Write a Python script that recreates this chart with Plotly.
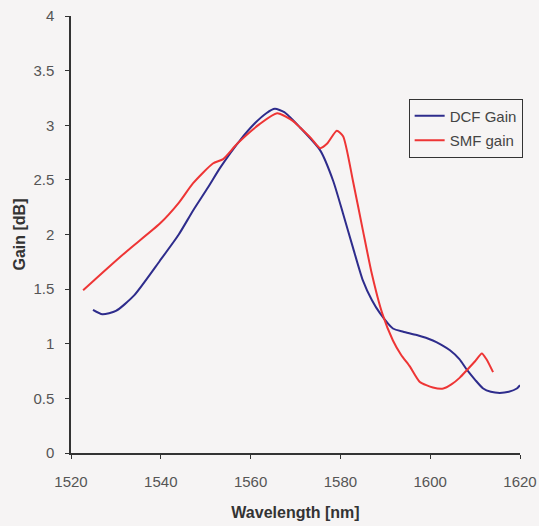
import plotly.graph_objects as go

# DCF gain spectrum (wavelength in nm, gain in dB)
dcf_wavelength = [1524.9, 1527.0, 1530.0, 1534.0, 1539.8, 1544.0, 1547.2, 1550.5, 1553.2,
                  1557.6, 1561.0, 1563.5, 1565.4, 1567.5, 1571.0, 1575.5, 1578.4, 1580.6,
                  1582.8, 1585.0, 1587.0, 1588.8, 1591.7, 1594.0, 1597.0, 1600.6, 1602.5,
                  1604.4, 1606.5, 1608.2, 1610.0, 1611.8, 1613.5, 1615.5, 1617.5, 1619.3, 1620.0]
dcf_gain = [1.31, 1.27, 1.30, 1.44, 1.76, 2.00, 2.22, 2.43, 2.61,
            2.86, 3.02, 3.11, 3.15, 3.12, 2.98, 2.77, 2.49, 2.19,
            1.88, 1.58, 1.40, 1.28, 1.14, 1.11, 1.08, 1.03, 0.99,
            0.94, 0.86, 0.76, 0.67, 0.59, 0.56, 0.55, 0.56, 0.59, 0.62]

# SMF gain spectrum
smf_wavelength = [1522.7, 1523.5, 1527.0, 1532.5, 1539.8, 1544.0, 1547.2, 1551.6, 1553.9,
                  1557.0, 1562.0, 1565.9, 1569.4, 1571.0, 1573.5, 1575.5, 1577.0, 1579.2,
                  1580.6, 1582.8, 1585.0, 1587.0, 1589.3, 1591.7, 1593.5, 1595.5, 1597.7,
                  1600.6, 1602.9, 1604.8, 1606.6, 1608.2, 1610.0, 1611.5, 1612.5, 1614.0]
smf_gain = [1.49, 1.52, 1.65, 1.85, 2.10, 2.29, 2.47, 2.65, 2.69,
            2.83, 3.01, 3.11, 3.04, 2.98, 2.88, 2.79, 2.83, 2.95,
            2.90, 2.49, 2.04, 1.64, 1.28, 1.03, 0.90, 0.79, 0.65,
            0.60, 0.59, 0.63, 0.69, 0.76, 0.84, 0.91, 0.86, 0.74]

x_ticks = [1520, 1540, 1560, 1580, 1600, 1620]
y_ticks = [0, 0.5, 1, 1.5, 2, 2.5, 3, 3.5, 4]
y_tick_labels = ["0", "0.5", "1", "1.5", "2", "2.5", "3", "3.5", "4"]

FONT = "Liberation Sans, Arial"

fig = go.Figure()
fig.add_trace(go.Scatter(x=dcf_wavelength, y=dcf_gain, mode="lines", name="DCF Gain",
                         legendgroup="dcf",
                         line=dict(color="#2e2c8c", width=2, shape="spline", smoothing=0.6)))
fig.add_trace(go.Scatter(x=smf_wavelength, y=smf_gain, mode="lines", name="SMF gain",
                         legendgroup="smf",
                         line=dict(color="#ee3535", width=2, shape="spline", smoothing=0.6)))

bg = "#f6f4f4"
axis_common = dict(showgrid=False, zeroline=False, showline=True, linecolor="#333333",
                   linewidth=1.5, ticks="outside", ticklen=4, tickcolor="#333333",
                   automargin=False, ticklabeloverflow="allow",
                   tickfont=dict(family=FONT, size=15, color="#555555"))

fig.update_layout(
    width=539, height=526,
    margin=dict(l=71, r=19, t=16, b=73),
    paper_bgcolor=bg, plot_bgcolor=bg,
    showlegend=True,
    legend=dict(x=0.752, y=0.811, xanchor="left", yanchor="top",
                bgcolor=bg, bordercolor="#333333", borderwidth=1,
                font=dict(family=FONT, size=15, color="#444444"),
                itemwidth=30, traceorder="grouped", tracegroupgap=2),
    xaxis=dict(range=[1520, 1620], tickvals=x_ticks, ticklabelstandoff=10,
               title=dict(text="<b>Wavelength [nm]</b>", standoff=18,
                          font=dict(family=FONT, size=16, color="#333333")),
               **axis_common),
    yaxis=dict(range=[0, 4], tickvals=y_ticks, ticktext=y_tick_labels, ticklabelstandoff=8,
               title=dict(text="<b>Gain [dB]</b>", standoff=4,
                          font=dict(family=FONT, size=16, color="#333333")),
               **axis_common),
)

fig.write_html("out.html")
